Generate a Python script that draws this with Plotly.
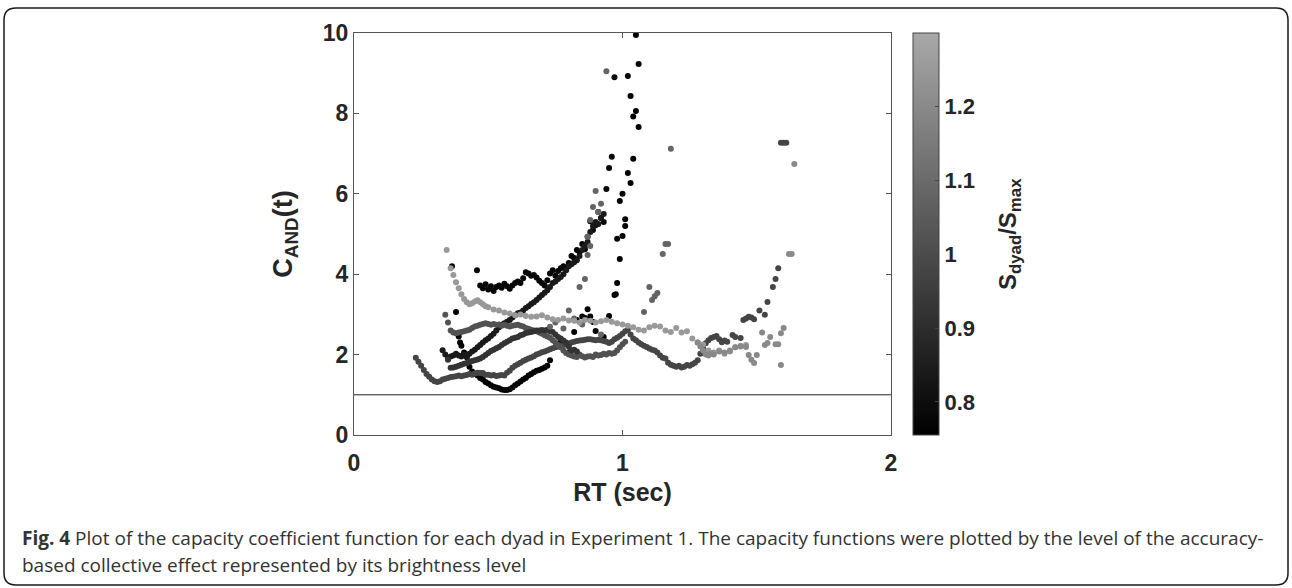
import plotly.graph_objects as go

# ---------------- data ----------------
LEVELS = [0.76, 0.78, 0.84, 0.98, 1.02, 0.92, 1.08, 1.25, 1.20]  # S_dyad/S_max per dyad

D1_X = [0.365, 0.38, 0.39, 0.395, 0.40, 0.41, 0.42, 0.425, 0.43, 0.44, 0.45, 0.46, 0.47, 0.48, 0.49, 0.50,
        0.51, 0.52, 0.53, 0.54, 0.55, 0.56, 0.57, 0.58, 0.59, 0.60, 0.61, 0.62, 0.63, 0.64, 0.65, 0.66,
        0.67, 0.68, 0.69, 0.70, 0.71, 0.72, 0.73, 0.77, 0.80, 0.82, 0.83, 0.85, 0.86, 0.87, 0.88, 0.89,
        0.90, 0.93, 0.95, 0.97, 0.975, 0.98, 0.99, 0.98, 1.00, 1.01, 1.01, 0.99, 1.00, 1.03, 1.02, 1.04,
        1.06, 1.04, 1.05, 1.03, 1.06, 1.05]
D1_Y = [4.20, 3.06, 2.45, 2.30, 2.22, 2.05, 1.94, 1.80, 1.70, 1.58, 1.52, 1.48, 1.42, 1.38, 1.32, 1.28,
        1.24, 1.20, 1.18, 1.16, 1.13, 1.12, 1.12, 1.14, 1.18, 1.24, 1.28, 1.33, 1.38, 1.42, 1.48, 1.52,
        1.56, 1.60, 1.62, 1.65, 1.68, 1.72, 1.86, 2.31, 2.06, 2.56, 2.86, 2.95, 2.91, 3.13, 2.95, 2.81,
        2.59, 2.44, 2.96, 3.48, 3.50, 3.78, 4.38, 4.88, 4.95, 5.20, 5.37, 5.82, 6.00, 6.27, 6.52, 6.87,
        7.66, 7.92, 8.06, 8.43, 9.23, 9.95]

D2_X = [0.458, 0.47, 0.48, 0.49, 0.50, 0.51, 0.52, 0.53, 0.54, 0.55, 0.56, 0.57, 0.58, 0.59, 0.60, 0.61,
        0.62, 0.63, 0.64, 0.65, 0.66, 0.67, 0.68, 0.69, 0.70, 0.71, 0.72, 0.73, 0.74, 0.75, 0.76, 0.77,
        0.78, 0.79, 0.80, 0.81, 0.82, 0.83, 0.84, 0.85, 0.86, 0.87, 0.88, 0.89, 0.90, 0.91, 0.92, 0.93,
        0.94, 0.95, 0.96, 0.97, 1.02]
D2_Y = [4.10, 3.72, 3.65, 3.75, 3.62, 3.70, 3.58, 3.68, 3.72, 3.66, 3.76, 3.70, 3.64, 3.72, 3.78, 3.82,
        3.78, 3.90, 4.05, 4.02, 3.96, 3.98, 3.92, 3.84, 3.78, 3.72, 3.85, 4.02, 4.10, 3.96, 4.08, 4.15,
        4.20, 4.12, 4.28, 4.45, 4.40, 4.60, 4.55, 4.75, 4.62, 4.93, 5.32, 5.10, 5.22, 5.55, 5.40, 5.30,
        6.12, 6.64, 6.92, 8.90, 8.93]

D3_X = [0.33, 0.34, 0.35, 0.36, 0.37, 0.38, 0.39, 0.40, 0.41, 0.42, 0.43, 0.44, 0.45, 0.46, 0.47, 0.48,
        0.49, 0.50, 0.51, 0.52, 0.53, 0.54, 0.55, 0.56, 0.57, 0.58, 0.59, 0.60, 0.61, 0.62, 0.63, 0.64,
        0.65, 0.66, 0.67, 0.68, 0.69, 0.70, 0.71, 0.72, 0.73, 0.74, 0.75, 0.76, 0.77, 0.78, 0.79, 0.80,
        0.81, 0.82, 0.83, 0.84, 0.85, 0.86, 0.87, 0.88, 0.89, 0.90, 0.91, 0.92, 0.93]
D3_Y = [2.11, 2.00, 1.90, 1.95, 1.98, 2.02, 1.98, 1.95, 2.00, 1.94, 2.02, 2.08, 2.12, 2.18, 2.24, 2.30,
        2.36, 2.40, 2.46, 2.52, 2.60, 2.68, 2.74, 2.78, 2.82, 2.86, 2.92, 2.98, 3.03, 3.05, 3.10, 3.16,
        3.20, 3.26, 3.30, 3.36, 3.42, 3.48, 3.54, 3.60, 3.68, 3.78, 3.82, 3.88, 3.93, 4.00, 4.10, 4.20,
        4.25, 4.30, 4.35, 4.45, 4.60, 4.70, 4.80, 5.05, 5.20, 5.30, 5.25, 5.40, 5.50]

D4_X = [0.23, 0.24, 0.25, 0.26, 0.27, 0.28, 0.29, 0.30, 0.31, 0.32, 0.33, 0.34, 0.35, 0.36, 0.37, 0.38,
        0.39, 0.40, 0.41, 0.42, 0.43, 0.44, 0.45, 0.46, 0.47, 0.48, 0.49, 0.50, 0.51, 0.52, 0.53, 0.54,
        0.55, 0.56, 0.57, 0.58, 0.59, 0.60, 0.61, 0.62, 0.63, 0.64, 0.65, 0.66, 0.67, 0.68, 0.69, 0.70,
        0.71, 0.72, 0.73, 0.74, 0.75, 0.76, 0.77, 0.78, 0.79, 0.80, 0.81, 0.82, 0.83, 0.84, 0.85, 0.86,
        0.87, 0.88, 0.89, 0.90, 0.91, 0.92, 0.93, 0.94, 0.95, 0.96, 0.97, 0.98, 0.99, 1.00, 1.01, 1.02,
        1.03, 1.04, 1.05, 1.06, 1.07, 1.08, 1.09, 1.10, 1.11, 1.12, 1.13, 1.14, 1.15, 1.16, 1.17, 1.18,
        1.19, 1.20, 1.21, 1.22, 1.23, 1.24, 1.25, 1.26, 1.27, 1.28, 1.29, 1.30, 1.31, 1.32, 1.33, 1.34,
        1.35, 1.36, 1.37, 1.38, 1.39, 1.41, 1.42, 1.44, 1.45, 1.46, 1.47, 1.48, 1.49, 1.51, 1.53, 1.54,
        1.56, 1.57, 1.58, 1.59, 1.60, 1.61]
D4_Y = [1.92, 1.82, 1.72, 1.62, 1.52, 1.45, 1.38, 1.34, 1.32, 1.34, 1.38, 1.40, 1.42, 1.44, 1.45, 1.46,
        1.48, 1.46, 1.48, 1.49, 1.52, 1.50, 1.53, 1.55, 1.54, 1.54, 1.50, 1.50, 1.48, 1.49, 1.47, 1.48,
        1.49, 1.48, 1.55, 1.60, 1.67, 1.72, 1.76, 1.80, 1.84, 1.87, 1.90, 1.93, 1.96, 2.00, 2.03, 2.06,
        2.08, 2.10, 2.13, 2.16, 2.18, 2.20, 2.22, 2.24, 2.25, 2.27, 2.30, 2.32, 2.34, 2.35, 2.36, 2.37,
        2.38, 2.38, 2.37, 2.36, 2.37, 2.36, 2.34, 2.32, 2.29, 2.32, 2.38, 2.42, 2.46, 2.52, 2.58, 2.62,
        2.50, 2.40, 2.36, 2.30, 2.26, 2.22, 2.19, 2.15, 2.12, 2.10, 2.05, 1.98, 1.92, 1.90, 1.80, 1.75,
        1.72, 1.70, 1.72, 1.68, 1.70, 1.74, 1.72, 1.76, 1.80, 1.86, 2.02, 2.16, 2.28, 2.36, 2.41, 2.44,
        2.46, 2.38, 2.31, 2.35, 2.32, 2.49, 2.44, 2.41, 2.86, 2.90, 2.94, 2.92, 2.88, 3.10, 2.99, 3.31,
        3.68, 3.88, 4.15, 7.27, 7.27, 7.27]

D5_X = [0.34, 0.35, 0.36, 0.37, 0.38, 0.39, 0.40, 0.41, 0.42, 0.43, 0.44, 0.45, 0.46, 0.47, 0.48, 0.49,
        0.50, 0.51, 0.52, 0.53, 0.54, 0.55, 0.56, 0.57, 0.58, 0.59, 0.60, 0.61, 0.62, 0.63, 0.64, 0.65,
        0.66, 0.67, 0.68, 0.69, 0.70, 0.71, 0.72, 0.73, 0.74, 0.75, 0.76, 0.77, 0.78, 0.79, 0.80, 0.81,
        0.82, 0.83, 0.84, 0.85, 0.86, 0.87, 0.88, 0.89, 0.90, 0.91, 0.92, 0.93, 0.94, 0.95, 0.96, 0.97,
        0.98, 0.99, 1.00, 1.01]
D5_Y = [2.99, 2.80, 2.60, 2.55, 2.53, 2.55, 2.56, 2.58, 2.60, 2.62, 2.66, 2.70, 2.72, 2.74, 2.76, 2.78,
        2.76, 2.74, 2.76, 2.74, 2.75, 2.72, 2.74, 2.72, 2.70, 2.72, 2.73, 2.74, 2.72, 2.70, 2.66, 2.64,
        2.62, 2.60, 2.58, 2.55, 2.52, 2.48, 2.45, 2.42, 2.36, 2.30, 2.24, 2.18, 2.10, 2.04, 2.00, 1.98,
        1.95, 1.94, 2.00, 1.96, 1.93, 1.95, 1.96, 1.94, 2.00, 1.98, 1.99, 2.02, 2.00, 2.04, 2.02, 2.04,
        2.10, 2.18, 2.26, 2.32]

D6_X = [0.35, 0.36, 0.37, 0.38, 0.39, 0.40, 0.41, 0.42, 0.43, 0.44, 0.45, 0.46, 0.47, 0.48, 0.49, 0.50,
        0.51, 0.52, 0.53, 0.54, 0.55, 0.56, 0.57, 0.58, 0.59, 0.60, 0.61, 0.62, 0.63, 0.64, 0.65, 0.66,
        0.67, 0.68, 0.69, 0.70, 0.71, 0.72, 0.73, 0.74, 0.75, 0.76, 0.77, 0.78, 0.79, 0.80, 0.81, 0.82,
        0.83]
D6_Y = [1.87, 1.67, 1.68, 1.70, 1.72, 1.75, 1.77, 1.79, 1.82, 1.84, 1.86, 1.88, 1.90, 1.94, 1.99, 2.04,
        2.09, 2.12, 2.16, 2.19, 2.24, 2.28, 2.32, 2.36, 2.40, 2.42, 2.44, 2.48, 2.50, 2.54, 2.55, 2.56,
        2.58, 2.60, 2.60, 2.61, 2.60, 2.62, 2.58, 2.56, 2.50, 2.44, 2.40, 2.35, 2.30, 2.20, 2.10, 2.12,
        2.08]

D7_X = [0.73, 0.75, 0.78, 0.80, 0.82, 0.84, 0.85, 0.86, 0.87, 0.87, 0.88, 0.88, 0.89, 0.90, 0.91, 0.92,
        0.92, 0.94, 1.08, 1.10, 1.11, 1.12, 1.13, 1.15, 1.16, 1.17, 1.18]
D7_Y = [2.69, 2.80, 2.65, 3.10, 2.90, 3.68, 2.75, 3.88, 4.48, 4.93, 4.70, 5.35, 5.67, 6.07, 5.55, 5.75,
        2.50, 9.05, 3.06, 3.68, 3.36, 3.45, 3.53, 4.50, 4.75, 4.75, 7.12]

D8_X = [0.345, 0.36, 0.37, 0.38, 0.39, 0.40, 0.41, 0.42, 0.43, 0.44, 0.45, 0.46, 0.47, 0.48, 0.49, 0.50,
        0.52, 0.54, 0.56, 0.58, 0.60, 0.62, 0.64, 0.66, 0.68, 0.70, 0.72, 0.74, 0.76, 0.78, 0.80, 0.82,
        0.84, 0.86, 0.88, 0.90, 0.92, 0.94, 0.96, 0.98, 1.00, 1.02, 1.04, 1.06, 1.08, 1.10, 1.12, 1.14,
        1.16, 1.18, 1.20, 1.22, 1.24, 1.26, 1.28, 1.30, 1.32, 1.34, 1.36, 1.38, 1.40, 1.42, 1.44, 1.46]
D8_Y = [4.60, 4.15, 3.98, 3.80, 3.65, 3.50, 3.38, 3.30, 3.25, 3.28, 3.32, 3.35, 3.30, 3.25, 3.20, 3.18,
        3.12, 3.10, 3.05, 3.02, 2.98, 3.00, 2.96, 2.94, 2.95, 2.98, 2.92, 2.88, 2.86, 2.90, 2.85, 2.84,
        2.80, 2.86, 2.84, 2.80, 2.83, 2.86, 2.82, 2.78, 2.75, 2.72, 2.68, 2.62, 2.60, 2.68, 2.72, 2.70,
        2.60, 2.56, 2.66, 2.55, 2.58, 2.40, 2.30, 2.25, 2.10, 2.05, 2.10, 2.02, 2.08, 2.18, 2.22, 2.24]

D9_X = [1.28, 1.29, 1.30, 1.31, 1.32, 1.33, 1.34, 1.36, 1.38, 1.40, 1.42, 1.44, 1.46, 1.47, 1.48, 1.49,
        1.50, 1.52, 1.53, 1.54, 1.55, 1.57, 1.58, 1.59, 1.59, 1.60, 1.62, 1.63, 1.64]
D9_Y = [2.30, 2.20, 2.10, 2.00, 1.98, 2.02, 2.00, 2.08, 2.05, 2.10, 2.18, 2.20, 2.19, 1.99, 1.87, 1.79,
        1.99, 2.55, 2.24, 2.29, 2.44, 2.26, 2.26, 1.74, 2.53, 2.66, 4.50, 4.50, 6.74]

SERIES_X = [D1_X, D2_X, D3_X, D4_X, D5_X, D6_X, D7_X, D8_X, D9_X]
SERIES_Y = [D1_Y, D2_Y, D3_Y, D4_Y, D5_Y, D6_Y, D7_Y, D8_Y, D9_Y]

REF_LEVEL = 1.0
X_RANGE = [0, 2]
Y_RANGE = [0, 10]
X_TICKS = [0, 1, 2]
Y_TICKS = [0, 2, 4, 6, 8, 10]
CB_TICKS = [0.8, 0.9, 1.0, 1.1, 1.2]
CB_TICKTEXT = ["0.8", "0.9", "1", "1.1", "1.2"]
CB_RANGE = [0.755, 1.30]

CB_TITLE = "S<sub>dyad</sub>/S<sub>max</sub>"
CAPTION_1 = ("<b>Fig. 4</b> Plot of the capacity coefficient function for each dyad in Experiment 1. "
             "The capacity functions were plotted by the level of the accuracy-")
CAPTION_2 = "based collective effect represented by its brightness level"

# ---------------- figure ----------------
W, H = 1292, 588
L, R, T, B = 354, 1292 - 891, 33, 588 - 435
PW, PH = W - L - R, H - T - B


def px(xp):
    return (xp - L) / PW


def py(yp):
    return (H - B - yp) / PH


FONT = "Liberation Sans, Arial, sans-serif"
TXT = "#262626"

fig = go.Figure()

# reference line C(t) = 1
fig.add_trace(go.Scatter(x=X_RANGE, y=[REF_LEVEL, REF_LEVEL], mode="lines",
                         line=dict(color="#222222", width=1), hoverinfo="skip", showlegend=False))

for i, (xs, ys) in enumerate(zip(SERIES_X, SERIES_Y)):
    fig.add_trace(go.Scatter(
        x=xs, y=ys, mode="markers", showlegend=False,
        marker=dict(size=6, color=[LEVELS[i]] * len(xs), coloraxis="coloraxis",
                    line=dict(width=0)),
    ))

fig.update_layout(
    width=W, height=H,
    margin=dict(l=L, r=R, t=T, b=B, pad=0),
    paper_bgcolor="white", plot_bgcolor="white",
    font=dict(family=FONT, color=TXT),
    coloraxis=dict(
        cmin=CB_RANGE[0], cmax=CB_RANGE[1],
        colorscale=[[0, "rgb(0,0,0)"], [1, "rgb(168,168,168)"]],
        colorbar=dict(
            x=px(913), xanchor="left", xpad=0,
            y=0.5, yanchor="middle", ypad=0, len=1, lenmode="fraction",
            thickness=26, thicknessmode="pixels",
            outlinewidth=1, outlinecolor="#444444",
            ticks="inside", ticklen=4, tickcolor="#444444",
            tickvals=CB_TICKS, ticktext=CB_TICKTEXT,
            tickfont=dict(size=22, family=FONT, color=TXT, weight="bold"),
        ),
    ),
    xaxis=dict(
        range=X_RANGE, tickvals=X_TICKS, ticks="inside", ticklen=5, tickcolor="#555555",
        showline=True, linecolor="#555555", linewidth=1, mirror="ticks",
        showgrid=False, zeroline=False, ticklabelstandoff=7,
        tickfont=dict(size=23, family=FONT, color=TXT, weight="bold"),
        title=dict(text="RT (sec)", standoff=8,
                   font=dict(size=25, family=FONT, color=TXT, weight="bold")),
    ),
    yaxis=dict(
        range=Y_RANGE, tickvals=Y_TICKS, ticks="inside", ticklen=5, tickcolor="#555555",
        showline=True, linecolor="#555555", linewidth=1, mirror="ticks",
        showgrid=False, zeroline=False,
        tickfont=dict(size=23, family=FONT, color=TXT, weight="bold"),
        title=dict(text="C<sub>AND</sub>(t)", standoff=22,
                   font=dict(size=27, family=FONT, color=TXT, weight="bold")),
    ),
)

# colour bar title
fig.add_annotation(text=CB_TITLE, xref="paper", yref="paper", x=px(1009), y=py(234),
                   xanchor="center", yanchor="middle", textangle=-90, showarrow=False,
                   font=dict(size=24, family=FONT, color=TXT, weight="bold"))

# rounded outer frame
x0, x1, y0, y1 = px(4), px(1288), py(8), py(585)
rx, ry = 12 / PW, 12 / PH
path = (f"M {x0 + rx},{y0} L {x1 - rx},{y0} Q {x1},{y0} {x1},{y0 - ry} "
        f"L {x1},{y1 + ry} Q {x1},{y1} {x1 - rx},{y1} "
        f"L {x0 + rx},{y1} Q {x0},{y1} {x0},{y1 + ry} "
        f"L {x0},{y0 - ry} Q {x0},{y0} {x0 + rx},{y0} Z")
fig.add_shape(type="path", path=path, xref="paper", yref="paper",
              line=dict(color="#1a1a1a", width=1.5), fillcolor="rgba(0,0,0,0)", layer="below")

for txt, yc in [(CAPTION_1, 538), (CAPTION_2, 565)]:
    fig.add_annotation(text=txt, xref="paper", yref="paper", x=px(20), y=py(yc),
                       xanchor="left", yanchor="middle", showarrow=False, align="left",
                       font=dict(family="Open Sans, sans-serif", size=19, color="#333333"))

fig.write_html("out.html")
